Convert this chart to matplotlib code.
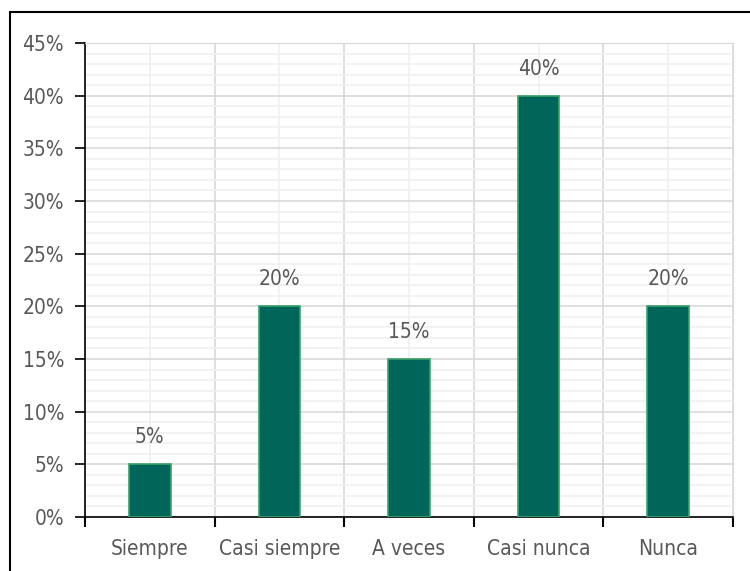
import numpy as np
import matplotlib.pyplot as plt
from matplotlib.patches import Rectangle
from matplotlib.ticker import MultipleLocator, FixedLocator, PercentFormatter
from matplotlib import font_manager

categories = ["Siempre", "Casi siempre", "A veces", "Casi nunca", "Nunca"]
values = [5, 20, 15, 40, 20]

names = {f.name for f in font_manager.fontManager.ttflist}
condensed = [f for f in font_manager.fontManager.ttflist
             if "ondensed" in f.name or "arrow" in f.name
             or f.stretch in ("condensed", "semi-condensed", "extra-condensed", 700, 600)]
if condensed:
    font = condensed[0].name
    stretch = condensed[0].stretch
else:
    font = "Liberation Sans" if "Liberation Sans" in names else "DejaVu Sans"
    stretch = "normal"
plt.rcParams["font.family"] = [font, "DejaVu Sans"]
plt.rcParams["font.stretch"] = stretch

TXT = "#595959"

fig = plt.figure(figsize=(7.5, 5.71), dpi=100)
ax = fig.add_axes([85 / 750, 1 - 517 / 571, 648 / 750, 474 / 571])

x = np.arange(len(categories))
bars = ax.bar(x, values, width=0.32, color="#006659", edgecolor="#3aa16a",
              linewidth=1.2, zorder=3)

for b, v in zip(bars, values):
    ax.text(b.get_x() + b.get_width() / 2, v + 1.6, f"{v}%", ha="center",
            va="bottom", fontsize=15, color=TXT)

ax.set_xlim(-0.5, len(categories) - 0.5)
ax.set_ylim(0, 45)
ax.yaxis.set_major_locator(MultipleLocator(5))
ax.yaxis.set_minor_locator(MultipleLocator(1))
ax.yaxis.set_major_formatter(PercentFormatter(decimals=0))

ax.xaxis.set_major_locator(FixedLocator(np.arange(-0.5, len(categories))))
ax.xaxis.set_minor_locator(FixedLocator(x))
ax.set_xticklabels([])
ax.set_xticks(x, categories, minor=True)

ax.grid(which="major", color="#d9d9d9", linewidth=1.2, zorder=0)
ax.grid(which="minor", color="#f0f0f0", linewidth=1.2, zorder=0)
ax.set_axisbelow(True)

ax.tick_params(axis="y", which="major", direction="out", length=7,
               width=1.2, colors="black", labelcolor=TXT, labelsize=15, pad=8)
ax.tick_params(axis="y", which="minor", length=0)
ax.tick_params(axis="x", which="major", direction="out", length=7,
               width=1.5, colors="black")
ax.tick_params(axis="x", which="minor", length=0, labelcolor=TXT,
               labelsize=15, pad=16)

for s in ["top", "right"]:
    ax.spines[s].set_color("#d9d9d9")
for s in ["left", "bottom"]:
    ax.spines[s].set_color("black")
    ax.spines[s].set_linewidth(1.2)

fig.patches.append(Rectangle((10 / 750, -0.1), 1.2, 1 - 12 / 571 + 0.1,
                             transform=fig.transFigure, fill=False,
                             edgecolor="black", linewidth=1.5))

fig.savefig("out.png", dpi=100)
